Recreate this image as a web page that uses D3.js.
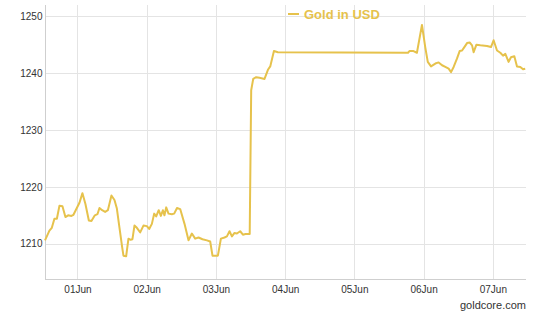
<!DOCTYPE html>
<html>
<head>
<meta charset="utf-8">
<script src="https://cdn.jsdelivr.net/npm/d3@7"></script>
<style>
    body { margin: 0; background: #fff; }
    svg { display: block; font-family: "Liberation Sans", Arial, sans-serif; }
</style>
</head>
<body>
<svg id="chart" width="541" height="315"></svg>
<script>
// gold price, 31 May - 07 Jun (times as month-day hour:minute)
const times = [
    '05-31 12:45', '05-31 14:17', '05-31 15:07', '05-31 16:01', '05-31 16:52', '05-31 17:46',
    '05-31 18:48', '05-31 19:50', '05-31 20:46', '05-31 21:55', '05-31 22:37', '05-31 23:47',
    '06-01 00:42', '06-01 01:44', '06-01 02:46', '06-01 03:57', '06-01 04:51', '06-01 06:02',
    '06-01 06:56', '06-01 07:38', '06-01 08:34', '06-01 09:36', '06-01 10:33', '06-01 11:47',
    '06-01 12:50', '06-01 13:40', '06-01 14:28', '06-01 15:30', '06-01 15:57', '06-01 16:53',
    '06-01 17:41', '06-01 18:27', '06-01 19:04', '06-01 19:46', '06-01 20:36', '06-01 21:45',
    '06-01 22:53', '06-02 00:04', '06-02 00:52', '06-02 01:48', '06-02 02:36', '06-02 03:18',
    '06-02 04:10', '06-02 04:55', '06-02 05:37', '06-02 06:10', '06-02 06:46', '06-02 07:34',
    '06-02 08:44', '06-02 09:32', '06-02 10:31', '06-02 11:37', '06-02 13:07', '06-02 14:30',
    '06-02 15:40', '06-02 16:49', '06-02 17:58', '06-02 19:21', '06-02 20:53', '06-02 22:01',
    '06-02 22:49', '06-03 00:41', '06-03 01:44', '06-03 02:59', '06-03 03:49', '06-03 04:43',
    '06-03 05:33', '06-03 06:27', '06-03 07:17', '06-03 08:25', '06-03 09:22', '06-03 10:16',
    '06-03 11:43', '06-03 12:14', '06-03 12:56', '06-03 13:58', '06-03 15:07', '06-03 16:51',
    '06-03 18:02', '06-03 18:50', '06-03 20:07', '06-03 21:30', '06-05 18:36', '06-05 19:05',
    '06-05 20:30', '06-05 21:41', '06-05 23:26', '06-06 00:34', '06-06 01:27', '06-06 02:34',
    '06-06 04:04', '06-06 05:13', '06-06 06:24', '06-06 07:32', '06-06 08:41', '06-06 09:31',
    '06-06 10:25', '06-06 11:36', '06-06 12:30', '06-06 13:20', '06-06 14:08', '06-06 15:04',
    '06-06 15:58', '06-06 16:48', '06-06 17:21', '06-06 18:17', '06-06 19:40', '06-06 21:59',
    '06-06 23:22', '06-07 00:16', '06-07 01:27', '06-07 02:36', '06-07 03:32', '06-07 04:20',
    '06-07 05:28', '06-07 06:18', '06-07 07:27', '06-07 08:23', '06-07 09:32', '06-07 10:28',
    '06-07 11:14'
];

const prices = [
    1210.6, 1212.3, 1212.8, 1214.4, 1214.4, 1216.7,
    1216.6, 1214.7, 1215.0, 1214.9, 1215.1, 1216.3,
    1217.2, 1218.9, 1217.0, 1214.1, 1214.0, 1215.0,
    1215.2, 1216.3, 1215.9, 1215.6, 1215.9, 1218.5,
    1217.7, 1216.2, 1213.2, 1209.4, 1207.9, 1207.8,
    1210.9, 1210.7, 1210.8, 1213.2, 1212.8, 1212.0,
    1213.2, 1213.1, 1212.6, 1213.5, 1215.3, 1214.8,
    1215.9, 1214.9, 1215.9, 1215.0, 1216.4, 1215.3,
    1215.2, 1215.3, 1216.3, 1216.1, 1213.5, 1210.6,
    1211.8, 1210.9, 1211.1, 1210.8, 1210.6, 1210.4,
    1207.9, 1207.9, 1210.9, 1211.1, 1211.3, 1212.2,
    1211.3, 1211.9, 1211.8, 1212.2, 1211.6, 1211.7,
    1211.7, 1237.0, 1239.0, 1239.3, 1239.2, 1239.0,
    1240.6, 1241.2, 1243.9, 1243.7, 1243.6, 1243.9,
    1243.9, 1243.6, 1248.5, 1244.6, 1242.0, 1241.2,
    1241.7, 1241.9, 1241.4, 1241.1, 1240.8, 1240.2,
    1241.1, 1242.6, 1243.9, 1244.0, 1244.6, 1245.3,
    1245.4, 1244.9, 1243.7, 1245.0, 1244.9, 1244.8,
    1244.6, 1245.8, 1244.0, 1243.6, 1243.1, 1243.4,
    1242.0, 1242.8, 1243.0, 1241.2, 1241.1, 1240.7,
    1240.8
];

const dayTicks = ['06-01', '06-02', '06-03', '06-04', '06-05', '06-06', '06-07'];
const priceTicks = [1210, 1220, 1230, 1240, 1250];
const timeRange = ['05-31 12:45', '06-07 11:30'];
const priceRange = [1203.8, 1252];

const seriesName = 'Gold in USD';
const credit = 'goldcore.com';
const gold = '#e6c24c';

const parseTime = d3.timeParse('%m-%d %H:%M');
const parseDay = d3.timeParse('%m-%d');

const plotLeft = 45, plotRight = 526, plotTop = 5, plotBottom = 279;

const svg = d3.select('#chart');

const xScale = d3.scaleTime()
    .domain(timeRange.map(parseTime))
    .range([plotLeft, plotRight]);

const yScale = d3.scaleLinear()
    .domain(priceRange)
    .range([plotBottom, plotTop]);

const data = times.map((t, i) => ({ x: parseTime(t), y: prices[i] }));

// grid
let grid = svg.append('g').attr('class', 'grid');

grid.selectAll('.hgrid')
    .data(priceTicks)
    .enter()
    .append('line')
    .attr('class', 'hgrid')
    .attr('x1', plotLeft)
    .attr('x2', plotRight)
    .attr('y1', (d) => Math.round(yScale(d)) + 0.5)
    .attr('y2', (d) => Math.round(yScale(d)) + 0.5)
    .style('stroke', '#e4e4e4')
    .style('stroke-width', 1);

grid.selectAll('.vgrid')
    .data(dayTicks.map(parseDay))
    .enter()
    .append('line')
    .attr('class', 'vgrid')
    .attr('x1', (d) => Math.round(xScale(d)) + 0.5)
    .attr('x2', (d) => Math.round(xScale(d)) + 0.5)
    .attr('y1', plotTop)
    .attr('y2', plotBottom)
    .style('stroke', '#e4e4e4')
    .style('stroke-width', 1);

// axes
let yAxis = svg.append('g')
    .attr('transform', `translate(${plotLeft + 0.5}, 0)`)
    .call(d3.axisLeft(yScale).tickValues(priceTicks).tickSize(0).tickPadding(3).tickFormat(d3.format('d')));

let xAxis = svg.append('g')
    .attr('transform', `translate(0, ${plotBottom + 0.5})`)
    .call(d3.axisBottom(xScale).tickValues(dayTicks.map(parseDay)).tickSize(0).tickPadding(6).tickFormat(d3.timeFormat('%d%b')));

[yAxis, xAxis].forEach((axis) => {
    axis.select('.domain').style('stroke', '#cfcfcf');
    axis.selectAll('text')
        .style('font-family', '"Liberation Sans", Arial, sans-serif')
        .style('font-size', '10px')
        .style('fill', '#333');
});

yAxis.select('.domain').attr('d', `M0,${plotTop}V${plotBottom}`);
xAxis.select('.domain').attr('d', `M${plotLeft},0H${plotRight}`);

// price line
svg.append('path')
    .datum(data)
    .attr('d', d3.line().x((d) => xScale(d.x)).y((d) => yScale(d.y)))
    .style('fill', 'none')
    .style('stroke', gold)
    .style('stroke-width', 2)
    .style('stroke-linejoin', 'round');

// legend
let legend = svg.append('g').attr('class', 'legend');

legend.append('line')
    .attr('x1', 288)
    .attr('x2', 299)
    .attr('y1', 14)
    .attr('y2', 14)
    .style('stroke', gold)
    .style('stroke-width', 2);

legend.append('text')
    .attr('x', 304)
    .attr('y', 18.5)
    .text(seriesName)
    .style('font-size', '13px')
    .style('font-weight', 'bold')
    .style('fill', gold);

svg.append('text')
    .attr('x', plotRight)
    .attr('y', 309)
    .attr('text-anchor', 'end')
    .text(credit)
    .style('font-size', '11px')
    .style('fill', '#333');
</script>
</body>
</html>
